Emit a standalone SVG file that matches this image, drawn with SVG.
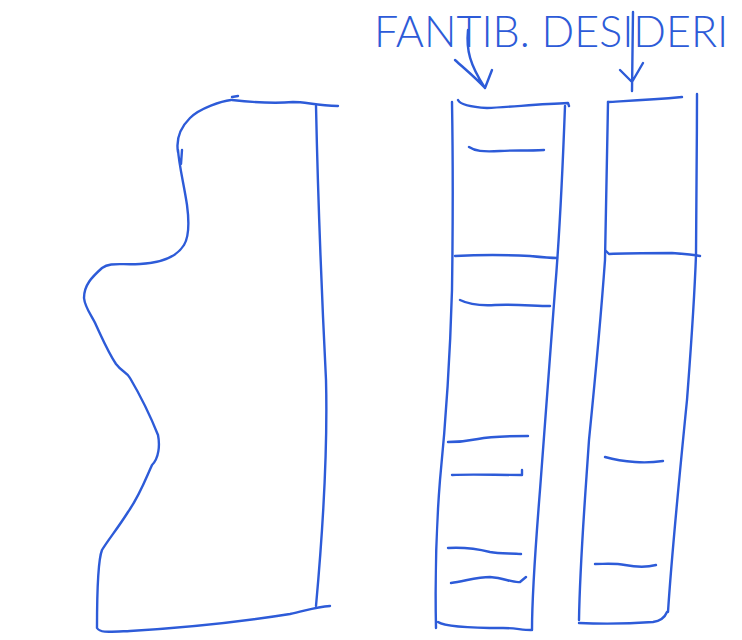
<svg xmlns="http://www.w3.org/2000/svg" width="742" height="640" viewBox="0 0 742 640">
<style>
.s{fill:none;stroke:#2d5bd8;stroke-width:2.4;stroke-linecap:round;stroke-linejoin:round}
.t{font-family:Lato,"Open Sans","Liberation Sans",sans-serif;font-weight:300;font-size:43px;fill:#2d5bd8}
</style>
<rect width="742" height="640" fill="#ffffff"/>
<g id="label">
<text class="t" x="374" y="47">FANTIB. DESIDERI</text>
</g>
<g id="shape-left">
<path class="s" d="M232,97 L238,96 M231,100 C222,101 200,108 190,118 C180,128 176,140 178,152 M182,150 L181,164 M178,150 C179,165 184,185 187,205 C189,220 190,235 184,245 C176,258 160,263 140,264 C120,265 110,262 102,268 C92,277 84,285 84,298 C85,308 92,316 96,325 C103,340 108,352 116,364 C122,372 127,372 130,378 C140,395 150,415 158,435 C160,445 159,458 152,465 C146,478 140,495 128,512 C118,528 108,540 102,550 C98,560 97,600 97,628 C100,633 108,632 130,631 C180,628 240,622 290,614 C305,611 315,607 330,606"/>
<path class="s" d="M232,100 C250,102 270,104 293,102 C305,102 315,105 338,106"/>
<path class="s" d="M316,106 C318,200 322,300 326,380 C328,460 322,540 316,606"/>
</g>
<g id="column-1">
<path class="s" d="M458,100 C460,104 470,107 487,108 C510,107 540,104 568,103 L569,106"/>
<path class="s" d="M452,102 C453,160 453,220 452,290 C450,360 446,420 440,480 C436,530 435,580 436,628"/>
<path class="s" d="M565,106 C563,160 560,230 555,290 C550,360 545,430 540,490 C536,540 532,590 532,630"/>
<path class="s" d="M438,622 C445,627 470,628 503,628 C515,628 522,630 531,630"/>
<path class="s" d="M469,147 C475,151 482,152 500,151 C515,150 525,151 544,150"/>
<path class="s" d="M455,256 C475,255 510,255 530,256 C540,257 550,258 557,258"/>
<path class="s" d="M460,300 C468,304 478,306 495,305 C515,304 535,306 550,306"/>
<path class="s" d="M448,442 C460,442 468,441 478,439 C492,436 510,436 528,436"/>
<path class="s" d="M452,475 C470,474 495,475 522,475 L522,470"/>
<path class="s" d="M448,548 C465,547 478,549 490,552 C500,554 512,553 521,554"/>
<path class="s" d="M451,583 C465,581 478,577 490,577 C505,578 512,583 520,582 L526,577"/>
</g>
<g id="column-2">
<path class="s" d="M608,102 C625,101 650,100 682,97"/>
<path class="s" d="M608,102 C607,160 606,220 605,260 C600,330 593,400 589,440 C585,500 580,560 579,620"/>
<path class="s" d="M697,94 C697,150 696,210 696,255 C694,310 690,360 687,400 C680,470 672,550 668,612"/>
<path class="s" d="M579,623 C600,624 625,624 653,622 C660,621 665,617 667,612"/>
<path class="s" d="M606,251 L609,254 C625,253 650,253 672,253 C685,254 695,255 700,256"/>
<path class="s" d="M605,457 C612,459 620,461 635,462 C648,463 656,462 663,461"/>
<path class="s" d="M595,564 C605,564 615,563 625,565 C635,567 645,568 656,565"/>
</g>
<g id="connectors">
<path class="s" d="M468,30 C466,50 470,65 485,88 M455,60 C466,70 476,78 485,88 L492,70"/>
<path class="s" d="M633,12 L632,91 M620,70 L632,82 L643,63"/>
</g>
</svg>
